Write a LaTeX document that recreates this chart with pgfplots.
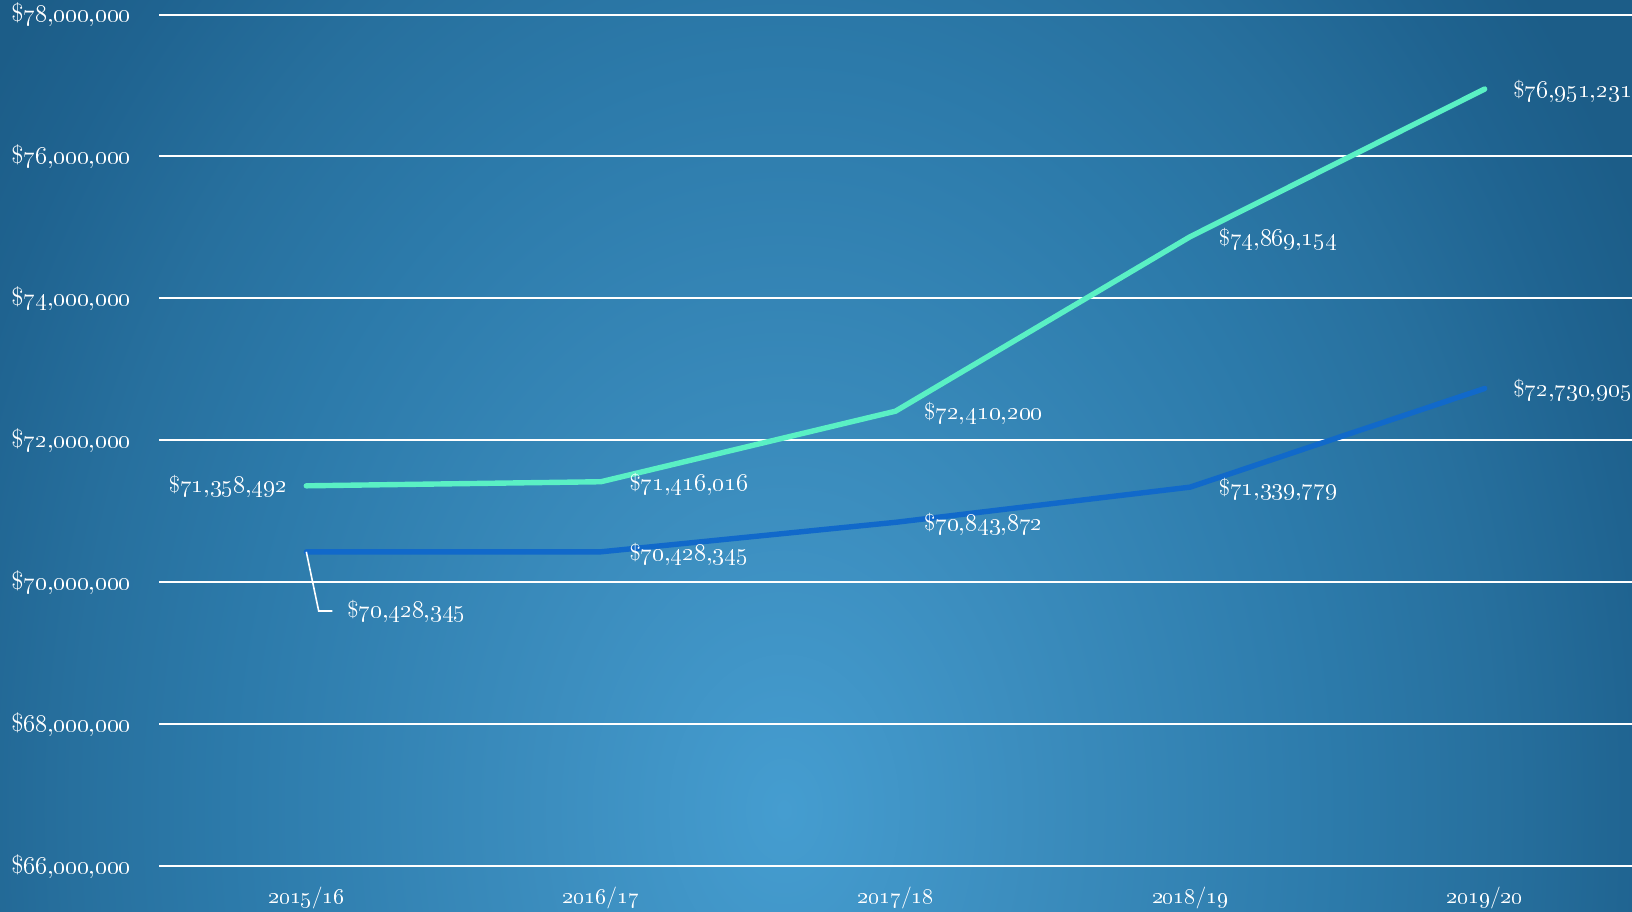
\documentclass[border=0pt]{standalone}
\usepackage{pgfplots}
\pgfplotsset{compat=1.18}
\definecolor{mint}{HTML}{5AF0C4}
\definecolor{lineblue}{HTML}{1169CA}
\definecolor{bga}{HTML}{459DD0}
\definecolor{bgb}{HTML}{3C8EBF}
\definecolor{bgc}{HTML}{2C7AAA}
\definecolor{bgd}{HTML}{27709E}
\definecolor{bge}{HTML}{1F6390}
\definecolor{bgf}{HTML}{1C5D88}
\pgfdeclareradialshading{bgshade}{\pgfpoint{0bp}{0bp}}{color(0bp)=(bga); color(6bp)=(bgb); color(14.5bp)=(bgc); color(18.5bp)=(bgd); color(22.5bp)=(bge); color(25bp)=(bgf); color(50bp)=(bgf)}
\newcommand\m[1]{\$\oldstylenums{#1}}
\newcommand\yr[2]{\oldstylenums{#1}/\oldstylenums{#2}}
\begin{document}
\begin{tikzpicture}[font=\fontsize{12}{14}\selectfont]
\useasboundingbox (0,0) rectangle (816pt,455.5pt);
\begin{scope}
\clip (0,0) rectangle (816pt,455.5pt);
\shade[shading=bgshade] (392pt-480pt,50.5pt-650pt) rectangle (392pt+480pt,50.5pt+650pt);
\end{scope}
\begin{axis}[
  at={(79.5pt,22.5pt)}, anchor=south west,
  scale only axis, width=736.5pt, height=425.7pt,
  xmin=-0.5, xmax=4.5, ymin=66, ymax=78,
  axis line style={draw=none},
  major tick length=0pt,
  xtick={0,1,2,3,4},
  xticklabels={\yr{2015}{16},\yr{2016}{17},\yr{2017}{18},\yr{2018}{19},\yr{2019}{20}},
  ytick={66,68,70,72,74,76,78},
  yticklabels={\m{66,000,000},\m{68,000,000},\m{70,000,000},\m{72,000,000},\m{74,000,000},\m{76,000,000},\m{78,000,000}},
  ymajorgrids, xmajorgrids=false,
  major grid style={white, line width=1pt},
  yticklabel style={white, anchor=east, inner sep=0pt, font=\fontsize{12.5}{14}\selectfont},
  yticklabel shift=14pt,
  xticklabel style={white, anchor=base, inner sep=0pt, font=\fontsize{11}{13}\selectfont},
  xticklabel shift=18.5pt,
  clip=false,
  point meta=explicit symbolic,
  nodes near coords,
  every node near coord/.append style={white, anchor=west, inner sep=0pt, xshift=13pt, yshift=-1pt, font=\fontsize{11.5}{13}\selectfont},
]
\addplot[mint, line width=2.7pt, line cap=round, line join=round] coordinates {
  (0,71.358492) []
  (1,71.416016) [\m{71,416,016}]
  (2,72.410200) [\m{72,410,200}]
  (3,74.869154) [\m{74,869,154}]
  (4,76.951231) [\m{76,951,231}]
};
\addplot[lineblue, line width=2.7pt, line cap=round, line join=round] coordinates {
  (0,70.428345) []
  (1,70.428345) [\m{70,428,345}]
  (2,70.843872) [\m{70,843,872}]
  (3,71.339779) [\m{71,339,779}]
  (4,72.730905) [\m{72,730,905}]
};
\node[white, anchor=east, inner sep=0pt, xshift=-9.4pt, font=\fontsize{11.5}{13}\selectfont] at (axis cs:0,71.358492) {\m{71,358,492}};
\draw[white, line width=0.8pt] (axis cs:0,70.428345) -- ++(6.2pt,-29.6pt) -- ++(6.8pt,0pt) coordinate (ld);
\node[white, anchor=west, inner sep=0pt, xshift=7.3pt, font=\fontsize{11.5}{13}\selectfont] at (ld) {\m{70,428,345}};
\end{axis}
\end{tikzpicture}
\end{document}
